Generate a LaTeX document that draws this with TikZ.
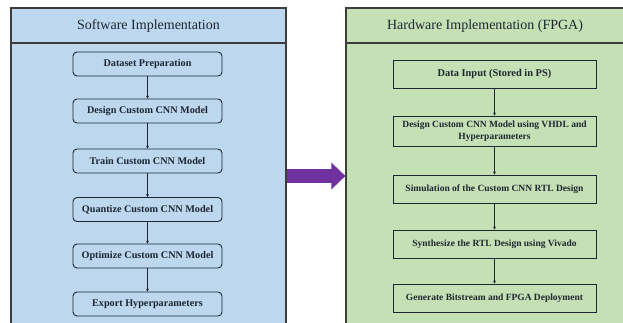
\documentclass[tikz,border=0pt]{standalone}
\usepackage{fontspec}
\setmainfont{Liberation Serif}
\usetikzlibrary{arrows.meta}

\definecolor{swfill}{RGB}{189,215,238}
\definecolor{hwfill}{RGB}{197,224,180}
\definecolor{edge}{RGB}{60,60,60}
\definecolor{ink}{RGB}{30,38,50}
\definecolor{bigarrow}{RGB}{112,48,160}

\begin{document}
\begin{tikzpicture}[x=1pt,y=-1pt,
  panel/.style={draw=edge,line width=1.2pt,inner sep=0pt},
  title/.style={font=\fontsize{14}{16}\selectfont,text=ink},
  swbox/.style={draw=ink,line width=.9pt,rounded corners=4pt,fill=swfill,
    minimum width=149pt,minimum height=24pt,inner sep=1pt,
    font=\bfseries\fontsize{10.2}{12}\selectfont,text=ink},
  hwbox/.style={draw=ink,line width=.9pt,fill=hwfill,
    minimum width=203pt,minimum height=28pt,inner sep=1pt,align=center,
    font=\bfseries\fontsize{9.5}{12}\selectfont,text=ink},
  flow/.style={draw=ink,line width=.8pt,-{Stealth[length=3pt,width=3pt]}}]
  \useasboundingbox (0,0) rectangle (623,322);

  % two panels
  \node[panel,fill=swfill,minimum width=275pt,minimum height=336pt] (sw) at (148.5,176) {};
  \node[panel,fill=hwfill,minimum width=294pt,minimum height=336pt] (hw) at (493,176) {};
  \draw[edge,line width=1.2pt] (11,43) -- (286,43);
  \draw[edge,line width=1.2pt] (346,43) -- (640,43);
  \node[title] (swt) at (148.5,26) {Software Implementation};
  \node[title] (hwt) at (485,26) {Hardware Implementation (FPGA)};

  % software flow
  \node[swbox] (s1) at (147.5,64)  {Dataset Preparation};
  \node[swbox] (s2) at (147.5,111) {Design Custom CNN Model};
  \node[swbox] (s3) at (147.5,161) {Train Custom CNN Model};
  \node[swbox] (s4) at (147.5,209.5) {Quantize Custom CNN Model};
  \node[swbox] (s5) at (147.5,256) {Optimize Custom CNN Model};
  \node[swbox] (s6) at (147.5,304) {Export Hyperparameters};

  % hardware flow
  \node[hwbox,font=\bfseries\fontsize{10.4}{12}\selectfont] (h1) at (494.5,74) {Data Input (Stored in PS)};
  \node[hwbox,minimum height=30pt] (h2) at (494.5,131)
    {Design Custom CNN Model using VHDL and\\Hyperparameters};
  \node[hwbox] (h3) at (494.5,189) {Simulation of the Custom CNN RTL Design};
  \node[hwbox] (h4) at (494.5,244) {Synthesize the RTL Design using Vivado};
  \node[hwbox] (h5) at (494.5,298) {Generate Bitstream and FPGA Deployment};

  \foreach \a/\b in {s1/s2,s2/s3,s3/s4,s4/s5,s5/s6,h1/h2,h2/h3,h3/h4,h4/h5}
    \draw[flow] (\a) -- (\b);

  \draw[bigarrow,line width=14pt,-{Triangle[length=14pt,width=26pt]}]
    (sw.east) -- (hw.west);
\end{tikzpicture}
\end{document}
